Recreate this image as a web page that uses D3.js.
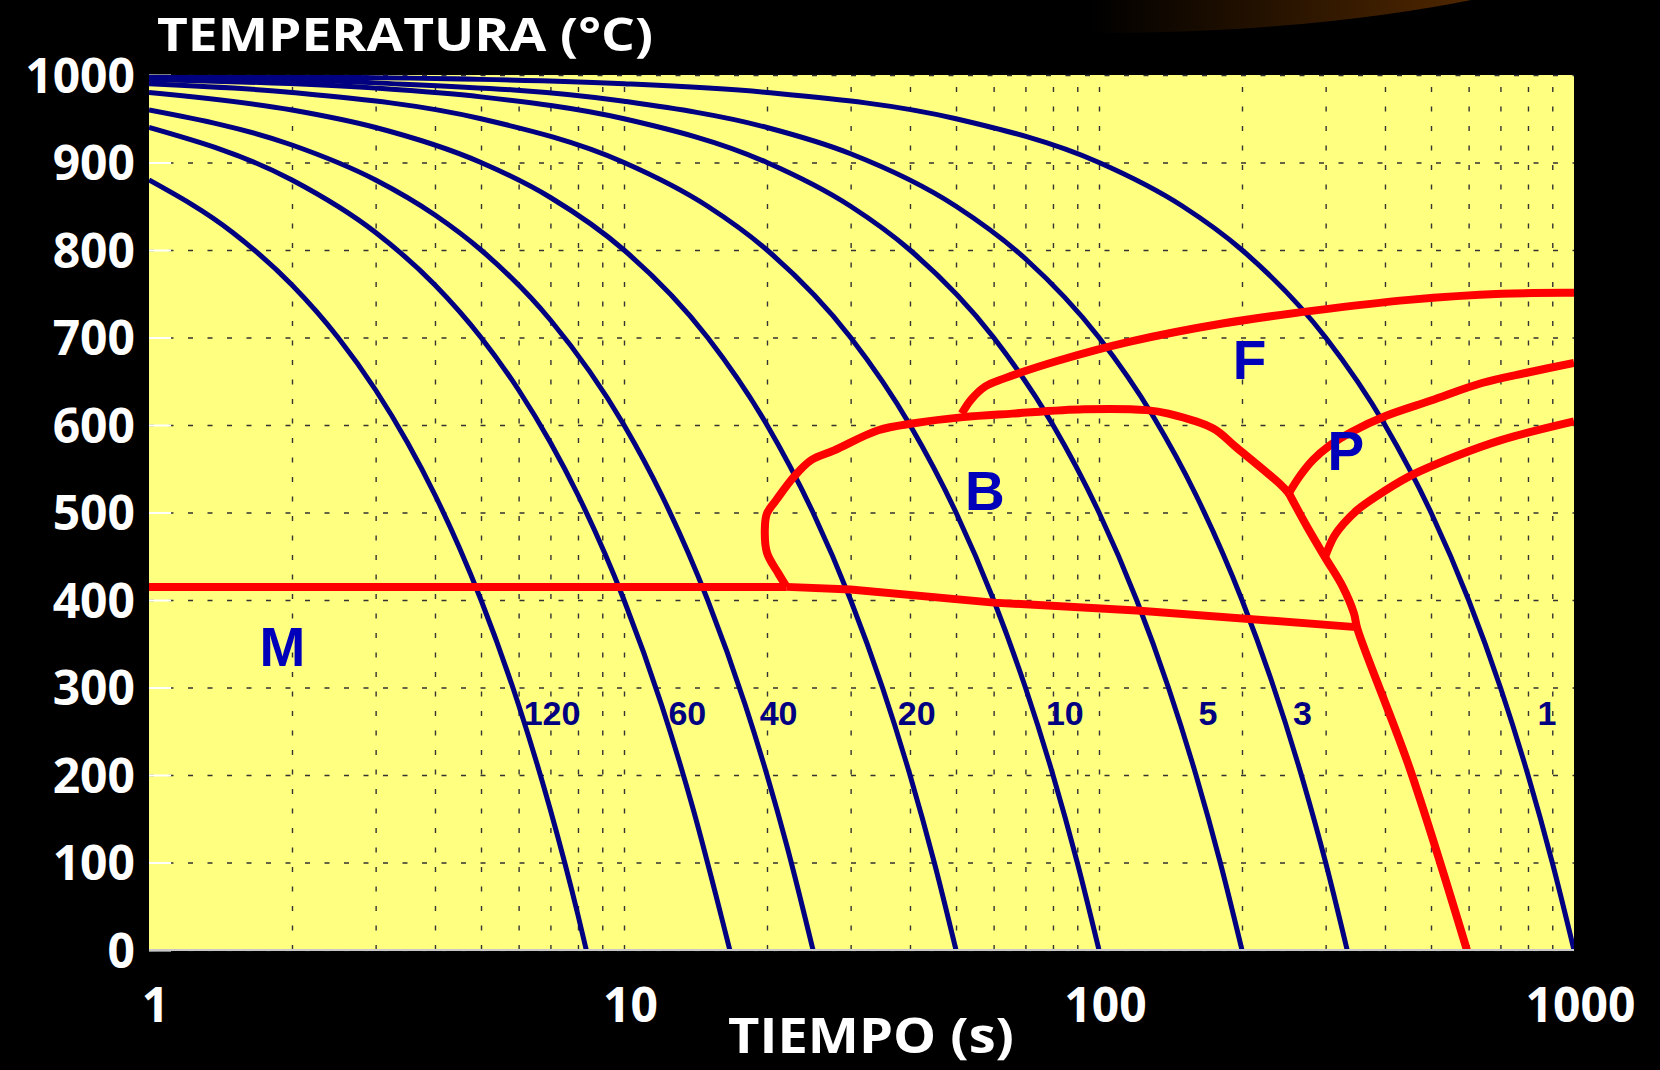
<!DOCTYPE html>
<html>
<head>
<meta charset="utf-8">
<script src="https://cdn.jsdelivr.net/npm/d3@7"></script>
<style>
    html, body { margin: 0; padding: 0; background: #000; }
    svg { display: block; }
</style>
</head>
<body>
<svg id="chart" width="1660" height="1070"></svg>
<script>
// axis ticks
var yTicks = [0, 100, 200, 300, 400, 500, 600, 700, 800, 900, 1000];
var xTicks = [1, 10, 100, 1000];
var xGrid = [2, 3, 4, 5, 6, 7, 8, 9, 10, 20, 30, 40, 50, 60, 70, 80, 90, 100, 200, 300, 400, 500, 600, 700, 800, 900];

// cooling curves [time s, temp C]
var curve120 = [[1, 880], [1.5, 820], [2, 760], [2.5, 700], [3, 640], [3.5, 580], [4, 520], [4.5, 460], [5, 400], [6, 280], [7, 160], [8, 40], [8.33, 0]];
var curve60 = [[1, 940], [2, 880], [3, 820], [4, 760], [5, 700], [6, 640], [7, 580], [8, 520], [10, 400], [12, 280], [14, 160], [16, 40], [16.7, 0]];
var curve40 = [[1, 960], [2, 920], [3, 880], [4, 840], [5, 800], [7, 720], [10, 600], [12, 520], [15, 400], [18, 280], [20, 200], [22, 120], [25, 0]];
var curve20 = [[1, 980], [2, 960], [3, 940], [5, 900], [7, 860], [10, 800], [15, 700], [20, 600], [25, 500], [30, 400], [35, 300], [40, 200], [45, 100], [50, 0]];
var curve10 = [[1, 990], [2, 980], [5, 950], [10, 900], [15, 850], [20, 800], [30, 700], [40, 600], [50, 500], [60, 400], [70, 300], [80, 200], [90, 100], [100, 0]];
var curve5 = [[1, 995], [3, 985], [5, 975], [10, 950], [20, 900], [30, 850], [40, 800], [60, 700], [80, 600], [100, 500], [120, 400], [140, 300], [160, 200], [180, 100], [200, 0]];
var curve3 = [[1, 997], [3, 991], [10, 970], [20, 940], [30, 910], [50, 850], [70, 790], [100, 700], [130, 610], [160, 520], [200, 400], [230, 310], [270, 190], [300, 100], [333, 0]];
var curve1 = [[1, 999], [5, 995], [10, 990], [20, 980], [50, 950], [100, 900], [150, 850], [200, 800], [300, 700], [400, 600], [500, 500], [600, 400], [700, 300], [800, 200], [900, 100], [1000, 0]];

var coolingCurves = [curve120, curve60, curve40, curve20, curve10, curve5, curve3, curve1];
var rateLabels = ["120", "60", "40", "20", "10", "5", "3", "1"];
var rateLabelTimes = [6.15, 12.4, 19.3, 37.7, 77.3, 162, 256, 838];
var rateLabelTemp = 271;

// transformation boundaries
var msFlat = [[1, 415], [22, 415]];
var msSlope = [[22, 415], [30, 412], [60, 397], [120, 388], [348, 369]];
var bainiteNose = [[22, 415], [21.1, 431], [20, 454], [19.8, 484], [20, 499], [20.9, 514], [22.8, 541], [24.8, 560], [27.7, 571], [34.3, 594], [40.8, 602], [51.7, 609], [65.7, 613], [93, 618], [126, 617], [140, 613], [174, 596], [194, 575], [240, 533], [251, 522]];
var pearliteNose = [[251, 522], [274, 484], [299, 449], [326, 415], [344, 385], [350, 367], [450, 209], [595, 0]];
var ferriteStart = [[51.4, 613], [53.8, 629], [57.6, 644], [63, 653], [82.6, 674], [115.6, 695], [182, 716], [286, 731], [449, 743], [705, 750], [1000, 751]];
var pearliteStart = [[251, 522], [265, 542], [282, 560], [305, 576], [340, 592], [400, 610], [500, 628], [640, 648], [800, 660], [1000, 671]];
var pearliteEnd = [[299, 449], [312, 472], [327, 487], [350, 503], [380, 517], [449, 541], [562, 564], [705, 583], [1000, 604]];

var regionNames = ["M", "B", "F", "P"];
var regionTimes = [1.91, 57.5, 207.5, 331];
var regionTemps = [347, 526, 675, 571];

var svg = d3.select("#chart"),
    margin = { top: 75, right: 86, bottom: 120, left: 149 },
    width = 1660 - margin.left - margin.right,
    height = 1070 - margin.top - margin.bottom;

var titleFont = "'Comic Sans MS', 'Open Sans', sans-serif";
var markFont = "'Liberation Sans', Arial, sans-serif";

// background glow in the top right corner
var defs = svg.append("defs");
var grad = defs.append("linearGradient")
    .attr("id", "glow")
    .attr("gradientUnits", "userSpaceOnUse")
    .attr("x1", 1090).attr("x2", 1520).attr("y1", 0).attr("y2", 0);
grad.append("stop").attr("offset", 0).attr("stop-color", "#000");
grad.append("stop").attr("offset", 1).attr("stop-color", "#5a2c00");
svg.append("ellipse")
    .attr("cx", 1100).attr("cy", -121)
    .attr("rx", 600).attr("ry", 154)
    .attr("fill", "url(#glow)");

defs.append("clipPath")
    .attr("id", "clip")
    .append("rect")
    .attr("width", width)
    .attr("height", height);

var x = d3.scaleLog().domain([1, 1000]).range([0, width]),
    y = d3.scaleLinear().domain([0, 1000]).range([height, 0]);

var g = svg.append("g")
    .attr("transform", "translate(" + margin.left + "," + margin.top + ")");

g.append("rect")
    .attr("width", width)
    .attr("height", height)
    .attr("fill", "#ffff80");

// dashed grid
g.append("g")
    .call(d3.axisLeft(y).tickValues(yTicks).tickSize(-width).tickFormat(""))
    .call(function(s) {
        s.select(".domain").remove();
        s.selectAll("line").attr("stroke", "#333").attr("stroke-width", 1.4).attr("stroke-dasharray", "5,14.5");
    });

g.append("g")
    .attr("transform", "translate(0," + height + ")")
    .call(d3.axisBottom(x).tickValues(xGrid).tickSize(-height).tickFormat(""))
    .call(function(s) {
        s.select(".domain").remove();
        s.selectAll("line").attr("stroke", "#333").attr("stroke-width", 1.4).attr("stroke-dasharray", "5,14.5");
    });

// small white ticks on the left edge
g.append("g")
    .call(d3.axisRight(y).tickValues(yTicks).tickSize(22).tickFormat(""))
    .call(function(s) {
        s.select(".domain").remove();
        s.selectAll("line").attr("stroke", "#fff").attr("stroke-width", 2);
    });

var line = d3.line()
    .x(function(d) { return x(d[0]); })
    .y(function(d) { return y(d[1]); });

var plot = g.append("g").attr("clip-path", "url(#clip)");

// cooling curves
plot.selectAll(".cool")
    .data(coolingCurves)
    .enter().append("path")
    .attr("class", "cool")
    .attr("d", line.curve(d3.curveMonotoneX))
    .attr("fill", "none")
    .attr("stroke", "#000080")
    .attr("stroke-width", 5);

// red boundaries
var smooth = d3.line()
    .x(function(d) { return x(d[0]); })
    .y(function(d) { return y(d[1]); })
    .curve(d3.curveCatmullRom.alpha(0.5));
var straight = d3.line()
    .x(function(d) { return x(d[0]); })
    .y(function(d) { return y(d[1]); });

[msFlat, msSlope].forEach(function(d) {
    plot.append("path").datum(d)
        .attr("d", straight)
        .attr("fill", "none").attr("stroke", "#ff0000").attr("stroke-width", 8);
});
[bainiteNose, pearliteNose, ferriteStart, pearliteStart, pearliteEnd].forEach(function(d) {
    plot.append("path").datum(d)
        .attr("d", smooth)
        .attr("fill", "none").attr("stroke", "#ff0000").attr("stroke-width", 8)
        .attr("stroke-linejoin", "round");
});

// bottom edge
g.append("line")
    .attr("x1", 0).attr("x2", width)
    .attr("y1", height).attr("y2", height)
    .attr("stroke", "#c8c8c8").attr("stroke-width", 2);

// curve labels
g.selectAll(".rate")
    .data(rateLabels)
    .enter().append("text")
    .attr("class", "rate")
    .attr("x", function(d, i) { return x(rateLabelTimes[i]); })
    .attr("y", y(rateLabelTemp))
    .attr("dy", "0.36em")
    .attr("font-family", markFont)
    .attr("font-weight", 700)
    .attr("font-size", 34)
    .attr("fill", "#000080")
    .text(function(d) { return d; });

// phase letters
g.selectAll(".region")
    .data(regionNames)
    .enter().append("text")
    .attr("class", "region")
    .attr("x", function(d, i) { return x(regionTimes[i]); })
    .attr("y", function(d, i) { return y(regionTemps[i]); })
    .attr("dy", "0.36em")
    .attr("text-anchor", "middle")
    .attr("font-family", markFont)
    .attr("font-weight", 700)
    .attr("font-size", 55)
    .attr("fill", "#0000bb")
    .text(function(d) { return d; });

// axes labels
g.append("g")
    .call(d3.axisLeft(y).tickValues(yTicks).tickFormat(d3.format("d")).tickSize(0).tickPadding(14))
    .call(function(s) {
        s.select(".domain").remove();
        s.attr("font-family", titleFont).attr("font-size", 48);
        s.selectAll("text").attr("fill", "#fff").attr("font-weight", 700).attr("dy", "0.36em");
    });

g.append("g")
    .attr("transform", "translate(0," + height + ")")
    .call(d3.axisBottom(x).tickValues(xTicks).tickFormat(d3.format("d")).tickSize(0).tickPadding(38))
    .call(function(s) {
        s.select(".domain").remove();
        s.attr("font-family", titleFont).attr("font-size", 48);
        s.selectAll("text").attr("fill", "#fff").attr("font-weight", 700).attr("dx", 6);
    });

svg.append("text")
    .attr("x", 157).attr("y", 51)
    .attr("textLength", 496)
    .attr("lengthAdjust", "spacingAndGlyphs")
    .attr("font-family", titleFont)
    .attr("font-weight", 700)
    .attr("font-size", 46)
    .attr("fill", "#fff")
    .text("TEMPERATURA (°C)");

svg.append("text")
    .attr("x", 728).attr("y", 1053)
    .attr("textLength", 286)
    .attr("lengthAdjust", "spacingAndGlyphs")
    .attr("font-family", titleFont)
    .attr("font-weight", 700)
    .attr("font-size", 48)
    .attr("fill", "#fff")
    .text("TIEMPO (s)");
</script>
</body>
</html>
